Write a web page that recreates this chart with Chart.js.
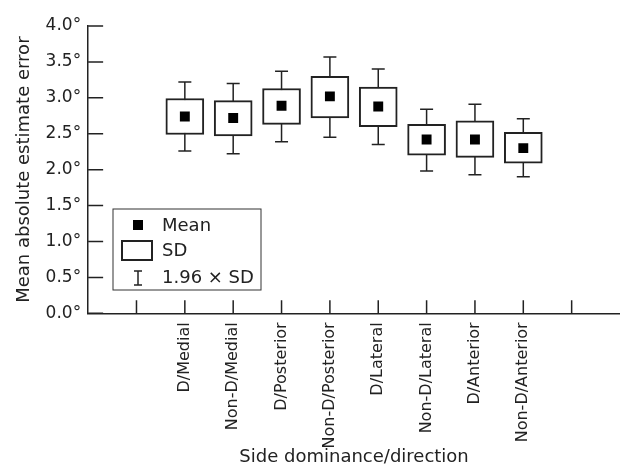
<!DOCTYPE html>
<html>
<head>
<meta charset="utf-8">
<script src="https://cdn.jsdelivr.net/npm/chart.js@4.4.1/dist/chart.umd.min.js"></script>
<style>
  html, body { margin: 0; padding: 0; background: #fff; }
  #wrap { width: 620px; height: 473px; }
</style>
</head>
<body>
<div id="wrap"><canvas id="myChart"></canvas></div>
<script>
const categories = ['D/Medial', 'Non-D/Medial', 'D/Posterior', 'Non-D/Posterior', 'D/Lateral', 'Non-D/Lateral', 'D/Anterior', 'Non-D/Anterior'];
const means = [2.74, 2.72, 2.89, 3.02, 2.88, 2.42, 2.42, 2.30];
const sdLow = [2.49, 2.47, 2.63, 2.72, 2.60, 2.20, 2.17, 2.09];
const sdHigh = [2.99, 2.96, 3.13, 3.30, 3.15, 2.63, 2.68, 2.52];
const ciLow = [2.26, 2.22, 2.39, 2.45, 2.35, 1.98, 1.93, 1.90];
const ciHigh = [3.22, 3.20, 3.37, 3.57, 3.40, 2.84, 2.91, 2.71];
const yTicks = [0, 0.5, 1, 1.5, 2, 2.5, 3, 3.5, 4];
const xTicks = [1, 2, 3, 4, 5, 6, 7, 8, 9, 10];

const ink = '#222';
const FONT = '"DejaVu Sans", sans-serif';
Chart.defaults.font.family = FONT;
Chart.defaults.color = ink;

// category i sits at x = i + 2 on a 0..11 axis (empty ticks at 1 and 10)
const xOf = (i) => i + 2;

const boxPlugin = {
    id: 'boxPlugin',
    beforeDatasetsDraw(chart) {
        const { ctx, scales: { x, y } } = chart;
        ctx.save();
        ctx.strokeStyle = ink;
        ctx.lineWidth = 1.5;
        categories.forEach((c, i) => {
            const px = x.getPixelForValue(xOf(i));
            const top = y.getPixelForValue(ciHigh[i]);
            const bot = y.getPixelForValue(ciLow[i]);
            ctx.beginPath();
            ctx.moveTo(px, top);
            ctx.lineTo(px, bot);
            ctx.moveTo(px - 6.5, top);
            ctx.lineTo(px + 6.5, top);
            ctx.moveTo(px - 6.5, bot);
            ctx.lineTo(px + 6.5, bot);
            ctx.stroke();
        });
        ctx.restore();
    },
    afterDraw(chart) {
        const { ctx, scales: { x, y }, chartArea } = chart;
        ctx.save();
        ctx.strokeStyle = ink;
        ctx.lineWidth = 1.5;
        // inward ticks
        ctx.beginPath();
        yTicks.forEach((v) => {
            const py = y.getPixelForValue(v);
            ctx.moveTo(chartArea.left, py);
            ctx.lineTo(chartArea.left + 15, py);
        });
        xTicks.forEach((v) => {
            const px = x.getPixelForValue(v);
            ctx.moveTo(px, chartArea.bottom);
            ctx.lineTo(px, chartArea.bottom - 13);
        });
        ctx.stroke();

        // legend
        const lx = 113, ly = 209, lw = 148, lh = 81;
        ctx.lineWidth = 1;
        ctx.strokeStyle = '#333';
        ctx.strokeRect(lx, ly, lw, lh);
        ctx.fillStyle = '#000';
        ctx.fillRect(133, 220, 10, 10);
        ctx.lineWidth = 2;
        ctx.strokeStyle = ink;
        ctx.strokeRect(122, 241, 30, 19);
        ctx.lineWidth = 1.5;
        ctx.beginPath();
        ctx.moveTo(138, 271); ctx.lineTo(138, 285);
        ctx.moveTo(134, 271); ctx.lineTo(142, 271);
        ctx.moveTo(134, 285); ctx.lineTo(142, 285);
        ctx.stroke();
        ctx.fillStyle = ink;
        ctx.font = '18px ' + FONT;
        ctx.textBaseline = 'middle';
        ctx.textAlign = 'left';
        ctx.fillText('Mean', 162, 226);
        ctx.fillText('SD', 162, 251);
        ctx.fillText('1.96 \u00d7 SD', 162, 278);
        ctx.restore();
    }
};

const chart = new Chart(document.getElementById('myChart'), {
    type: 'bar',
    data: {
        datasets: [{
            type: 'scatter',
            label: 'Mean',
            data: categories.map((c, i) => ({ x: xOf(i), y: means[i] })),
            pointStyle: 'rect',
            pointRadius: 7,
            backgroundColor: '#000',
            borderColor: '#000',
            borderWidth: 0
        }, {
            label: 'SD',
            data: categories.map((c, i) => ({ x: xOf(i), y: [sdLow[i], sdHigh[i]] })),
            backgroundColor: '#fff',
            borderColor: ink,
            borderWidth: 2,
            borderSkipped: false,
            barThickness: 38
        }]
    },
    options: {
        responsive: true,
        maintainAspectRatio: false,
        animation: false,
        layout: { autoPadding: false, padding: { left: 14, top: 26, right: 0, bottom: 5 } },
        plugins: {
            legend: { display: false },
            tooltip: { enabled: false }
        },
        scales: {
            x: {
                type: 'linear',
                offset: false,
                min: 0,
                max: 11,
                afterBuildTicks: (scale) => { scale.ticks = xTicks.map((v) => ({ value: v })); },
                afterFit: (scale) => { scale.paddingRight = 0; scale.paddingLeft = 0; },
                grid: { display: false, drawTicks: false, offset: false },
                border: { display: true, color: ink, width: 1.5 },
                ticks: {
                    autoSkip: false,
                    minRotation: 90,
                    maxRotation: 90,
                    padding: 9,
                    font: { size: 16 },
                    color: ink,
                    callback: (v) => categories[v - 2] || ''
                },
                title: {
                    display: true,
                    text: 'Side dominance/direction',
                    font: { size: 18 },
                    color: ink,
                    padding: { top: -11, bottom: 0 }
                }
            },
            y: {
                min: 0,
                max: 4,
                afterBuildTicks: (scale) => { scale.ticks = yTicks.map((v) => ({ value: v })); },
                grid: { display: false, drawTicks: false },
                border: { display: true, color: ink, width: 1.5 },
                ticks: {
                    padding: 7,
                    font: { size: 17 },
                    color: ink,
                    callback: (v) => v.toFixed(1) + '\u00b0'
                },
                title: {
                    display: true,
                    text: 'Mean absolute estimate error',
                    font: { size: 18 },
                    color: ink,
                    padding: { top: 0, bottom: 3 }
                }
            }
        }
    },
    plugins: [boxPlugin]
});
</script>
</body>
</html>
